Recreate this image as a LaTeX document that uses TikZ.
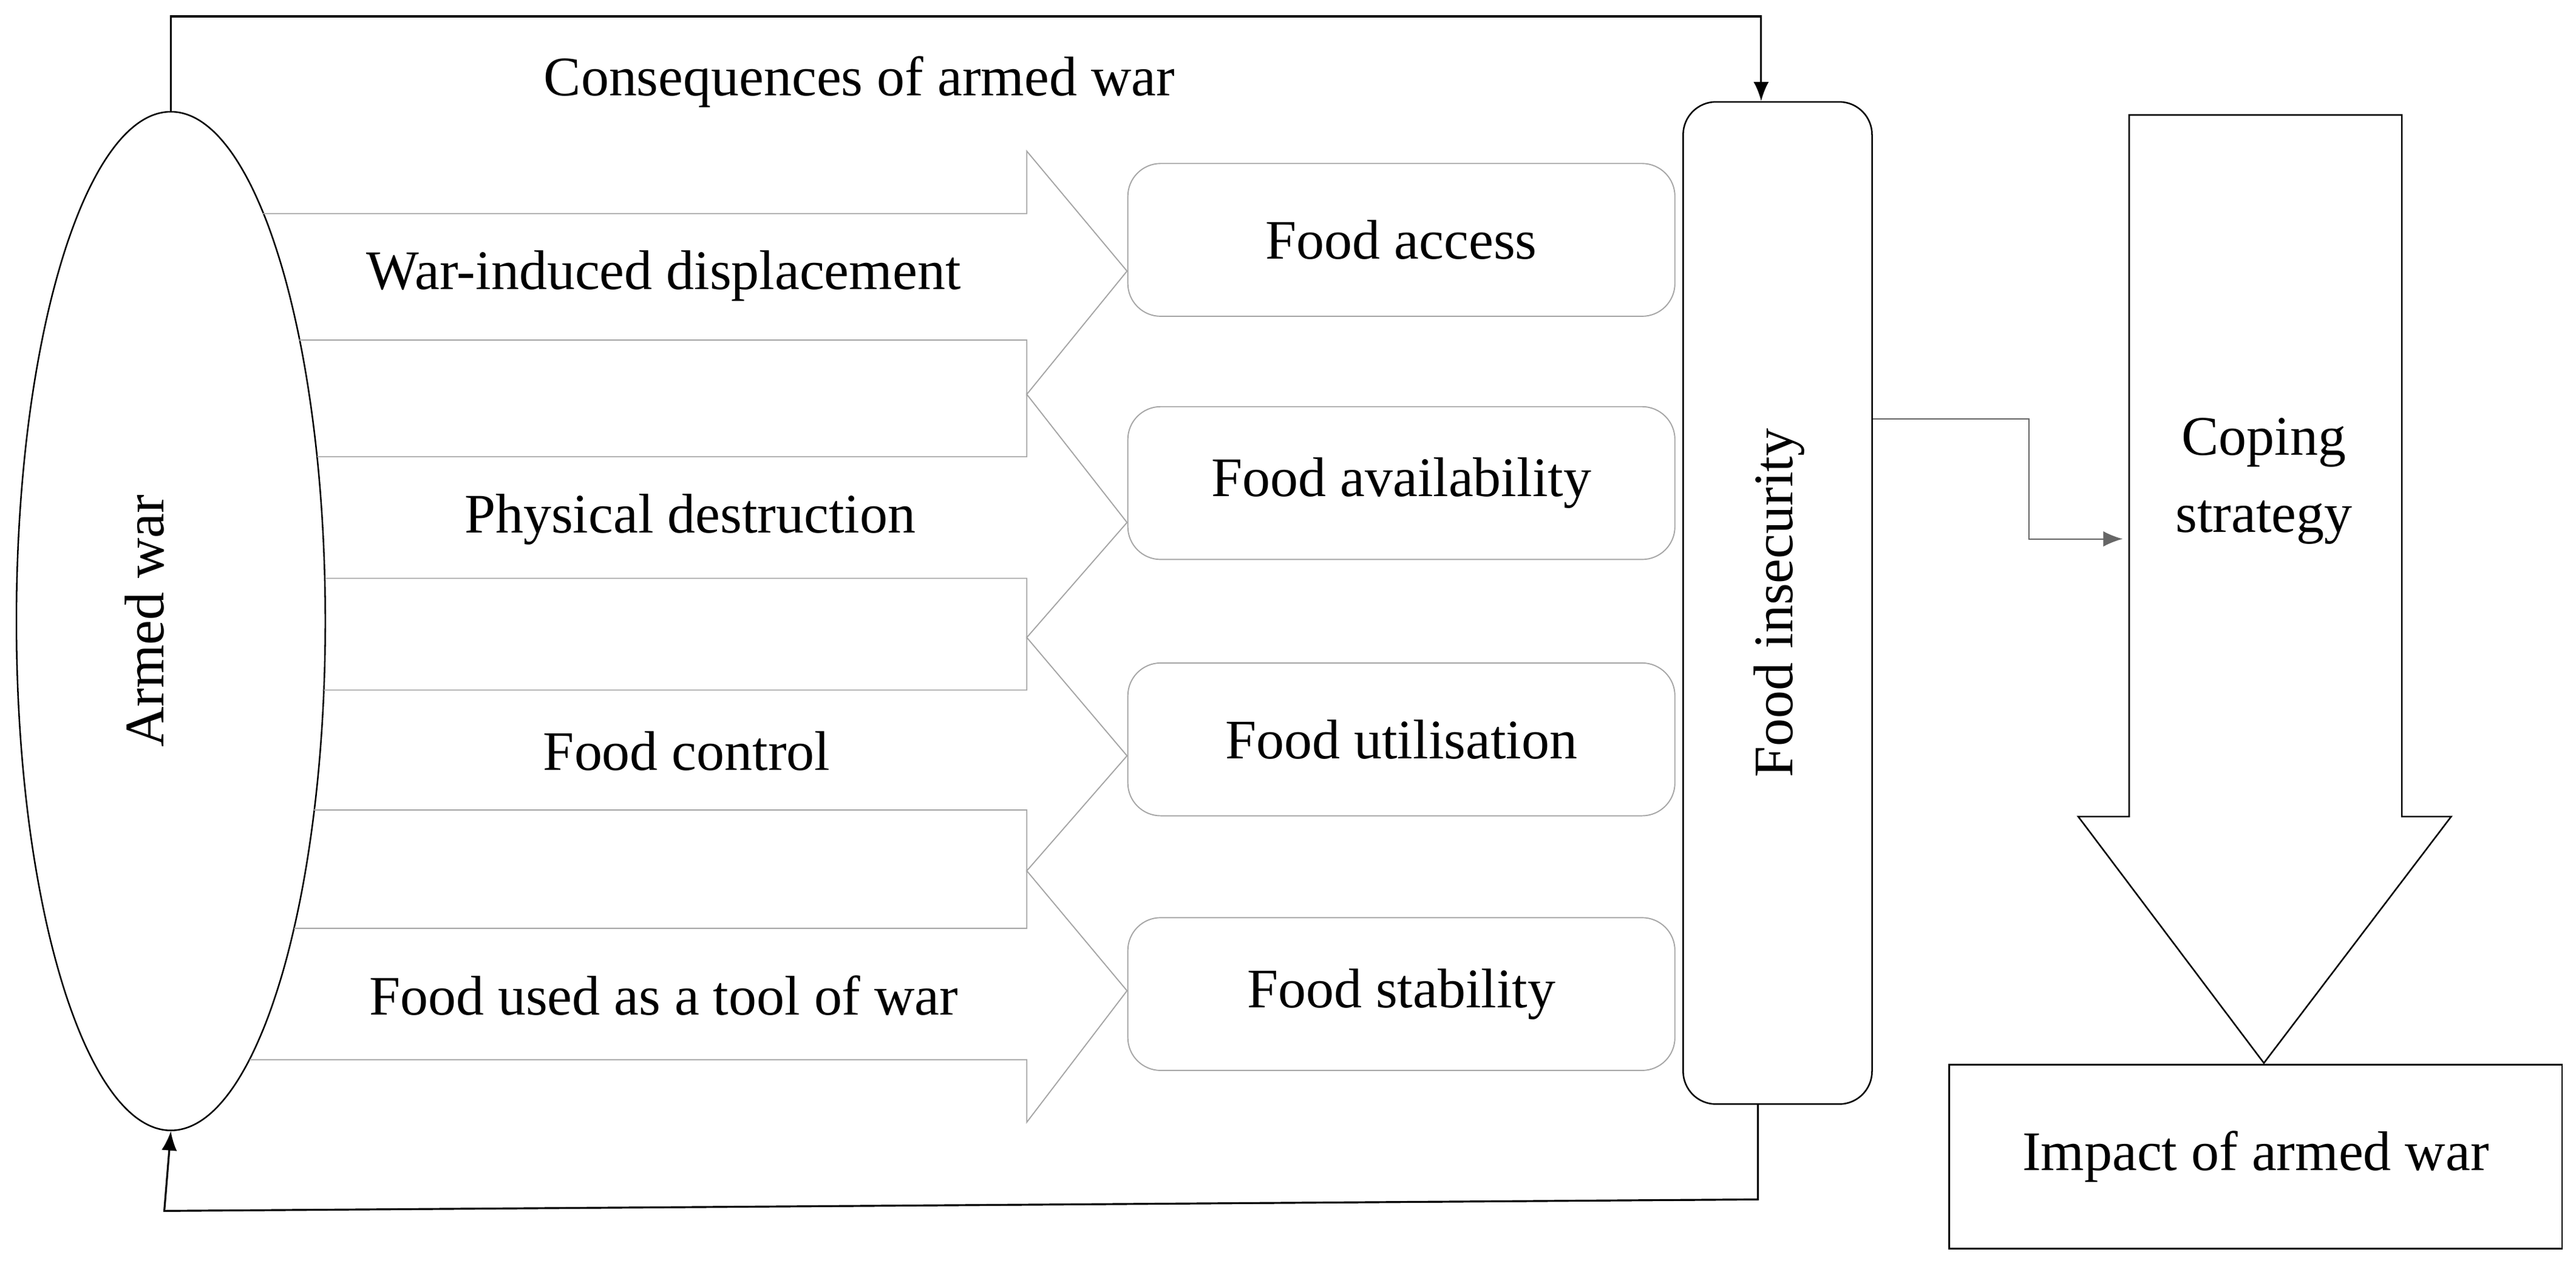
\documentclass[tikz,border=0pt]{standalone}
\usepackage{fontspec}
\setmainfont{Liberation Serif}
\usetikzlibrary{shapes.geometric,arrows.meta}
\begin{document}
\begin{tikzpicture}[x=0.03cm,y=-0.03cm,
  txt/.style={font=\fontsize{29}{40}\selectfont},
  fbox/.style={draw=gray!70,rounded corners=0.6cm,line width=0.6pt,minimum width=333*0.03cm,minimum height=93*0.03cm,txt},
  blk/.style={draw=gray!70,line width=0.6pt},
  conn/.style={line width=1pt,-{Latex[length=10pt,width=8pt]}}]
\useasboundingbox (0,0) rectangle (1568,772);
% ellipse
\node[draw,ellipse,line width=0.8pt,minimum width=188*0.03cm,minimum height=620*0.03cm,inner sep=0pt] (war) at (104,378) {};
\node[txt,rotate=90] (warT) at (88,378) {Armed war};
% block arrows
\draw[blk] (160,130)--(625,130)--(625,92)--(686,165)--(625,240)--(625,207)--(182,207);
\draw[blk] (193,278)--(625,278)--(625,240)--(686,318)--(625,388)--(625,352)--(198,352);
\draw[blk] (197,420)--(625,420)--(625,388)--(686,460)--(625,530)--(625,493)--(191,493);
\draw[blk] (179,565)--(625,565)--(625,530)--(686,603)--(625,683)--(625,645)--(152,645);
\node[txt] (a1) at (404,168) {War-induced displacement};
\node[txt] (a2) at (420,316) {Physical destruction};
\node[txt] (a3) at (418,457) {Food control};
\node[txt] (a4) at (404,606) {Food used as a tool of war};
% boxes
\node[fbox] (acc) at (853,146) {Food access};
\node[fbox] (ava) at (853,294) {Food availability};
\node[fbox] (uti) at (853,450) {Food utilisation};
\node[fbox] (sta) at (853,605) {Food stability};
\node[draw,line width=0.8pt,rounded corners=0.6cm,minimum width=115*0.03cm,minimum height=610*0.03cm] (ins) at (1082,367) {};
\node[txt,rotate=90] (insT) at (1083,367) {Food insecurity};
\node[txt] (cons) at (523,50) {Consequences of armed war};
% loop connectors
\coordinate (t1) at (104,10);
\coordinate (t2) at (1072,10);
\draw[conn] (war.north) -- (t1) -- (t2) -- (t2 |- ins.north);
\coordinate (b1) at (1070,730);
\coordinate (b2) at (100,737);
\draw[conn] (1070,672) -- (b1) -- (b2) -- (war.south);
% coping
\draw[line width=0.8pt] (1296,70)--(1462,70)--(1462,497)--(1492,497)--(1378,647)--(1265,497)--(1296,497)--cycle;
\node[txt,align=center] (cop) at (1378,293) {Coping\\strategy};
\coordinate (c1) at (1235,255);
\coordinate (c2) at (1235,328);
\coordinate (c3) at (1292,328);
\draw[conn,line width=0.6pt,draw=gray!80!black] (ins.east |- c1) -- (c1) -- (c2) -- (c3);
\node[draw,line width=0.8pt,minimum width=373*0.03cm,minimum height=112*0.03cm,txt] (imp) at (1373,704) {Impact of armed war};
\end{tikzpicture}
\end{document}
